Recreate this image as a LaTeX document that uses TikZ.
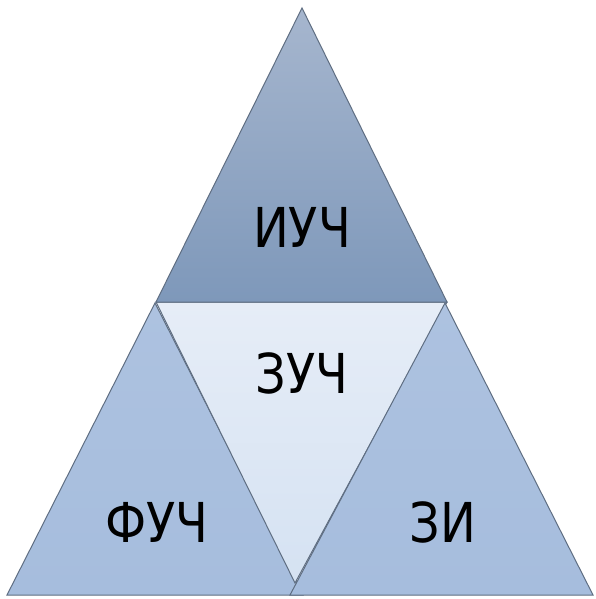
\documentclass[tikz,border=0pt]{standalone}
\usepackage{fontspec}
\setmainfont{DejaVu Sans}
\definecolor{edgec}{HTML}{5F6E82}
\definecolor{toptop}{HTML}{A6B6CE}
\definecolor{topbot}{HTML}{7E98BA}
\definecolor{sidec}{HTML}{A6BDDD}
\definecolor{sidetop}{HTML}{ADC2E0}
\definecolor{midtop}{HTML}{E6EDF7}
\definecolor{midbot}{HTML}{D5E2F2}
\newcommand{\lbltext}[1]{\scalebox{0.87}[1]{#1}}
\tikzset{
  tri/.style={draw=edgec, line width=1pt, line join=miter},
  lbl/.style={font=\fontsize{55}{60}\selectfont, text=black, inner sep=0pt, anchor=center}
}
\begin{document}
\begin{tikzpicture}[x=1pt,y=-1pt]
\useasboundingbox (0,0) rectangle (595,599);
\fill[white] (0,0) rectangle (595,599);
% corner coordinates
\coordinate (tA) at (302,8);
\coordinate (tL) at (156,302);
\coordinate (tR) at (447,302);
\coordinate (lA) at (155,303);
\coordinate (lL) at (7,595);
\coordinate (lR) at (303,595);
\coordinate (rA) at (445,303);
\coordinate (rL) at (290,595);
\coordinate (rR) at (593,595);
\coordinate (mB) at (295,583);
% left triangle
\draw[tri, top color=sidetop, bottom color=sidec] (lA) -- (lR) -- (lL) -- cycle;
% middle inverted triangle
\draw[tri, top color=midtop, bottom color=midbot] (tL) -- (tR) -- (mB) -- cycle;
% right triangle
\draw[tri, top color=sidetop, bottom color=sidec] (rA) -- (rR) -- (rL) -- cycle;
% top triangle
\draw[tri, top color=toptop, bottom color=topbot] (tA) -- (tR) -- (tL) -- cycle;
% labels
\node[lbl] (iuch) at (302,227) {\lbltext{ИУЧ}};
\node[lbl] (zuch) at (302,373) {\lbltext{ЗУЧ}};
\node[lbl] (fuch) at (157,522) {\lbltext{ФУЧ}};
\node[lbl] (zi) at (443,522) {\lbltext{ЗИ}};
\end{tikzpicture}
\end{document}
